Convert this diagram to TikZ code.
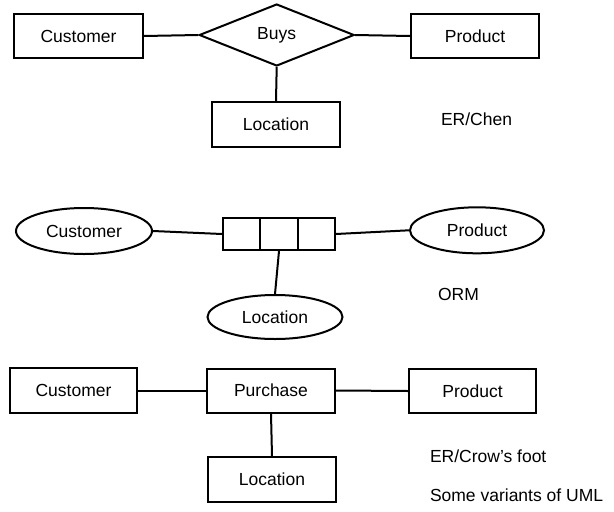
\documentclass[tikz,border=0pt]{standalone}
\usepackage{fontspec}
\setmainfont{Liberation Sans}
\usetikzlibrary{shapes.geometric,calc}

\begin{document}
\begin{tikzpicture}[x=1pt,y=-1pt,line width=2pt,font=\fontsize{17.5}{21}\selectfont]
 \tikzstyle{entitybox} = [draw=black,rectangle,inner sep=0,minimum width=128,minimum height=44]
 \tikzstyle{relshape} = [draw=black,diamond,inner sep=0,minimum width=155,minimum height=62]
 \tikzstyle{objnode} = [draw=black,ellipse,inner sep=0,minimum width=135,minimum height=45]
 \tikzstyle{notation} = [anchor=west,inner sep=0]

  \useasboundingbox (0,0) rectangle (614,512);

  % ER/Chen
  \node[entitybox,minimum width=129] (cust1) at (78.5,36) {Customer};
  \node[relshape] (buys) at (276.7,35) {Buys};
  \node[entitybox] (prod1) at (475,36) {Product};
  \node[entitybox,minimum height=45] (loc1) at (276,124.5) {Location};
  \node[notation] (chen) at (440,119) {ER/Chen};

  \draw (cust1.east) -- (buys.west);
  \draw (buys.east) -- (prod1.west);
  \draw (buys.south) -- (loc1.north);

  % ORM
  \node[objnode,minimum width=136,minimum height=46] (cust2) at (84,231) {Customer};
  \node[draw=black,rectangle,inner sep=0,minimum width=112,minimum height=32] (roles) at (279,234) {};
  \node[objnode,minimum width=134,minimum height=46] (prod2) at (477,230.3) {Product};
  \node[objnode,minimum height=44] (loc2) at (275,317) {Location};
  \node[notation] (orm) at (437,294) {ORM};

  \foreach \f in {1,2}
    \draw ($(roles.north west)!\f/3!(roles.north east)$) -- ($(roles.south west)!\f/3!(roles.south east)$);

  \draw (cust2.east) -- (roles.west);
  \draw (roles.east) -- (prod2.west);
  \draw (roles.south) -- (loc2.north);

  % ER/Crow's foot
  \node[entitybox,minimum width=127,minimum height=45] (cust3) at (73.5,390.5) {Customer};
  \node[entitybox] (purch) at (271,390.5) {Purchase};
  \node[entitybox,minimum width=127] (prod3) at (472.5,391) {Product};
  \node[entitybox,minimum height=45] (loc3) at (272,479.5) {Location};
  \node[notation] (crow) at (429,456.7) {ER/Crow’s foot};
  \node[notation] (uml) at (429,495) {Some variants of UML};

  \draw (cust3.east) -- (purch.west);
  \draw (purch.east) -- (prod3.west);
  \draw (purch.south) -- (loc3.north);

\end{tikzpicture}
\end{document}
